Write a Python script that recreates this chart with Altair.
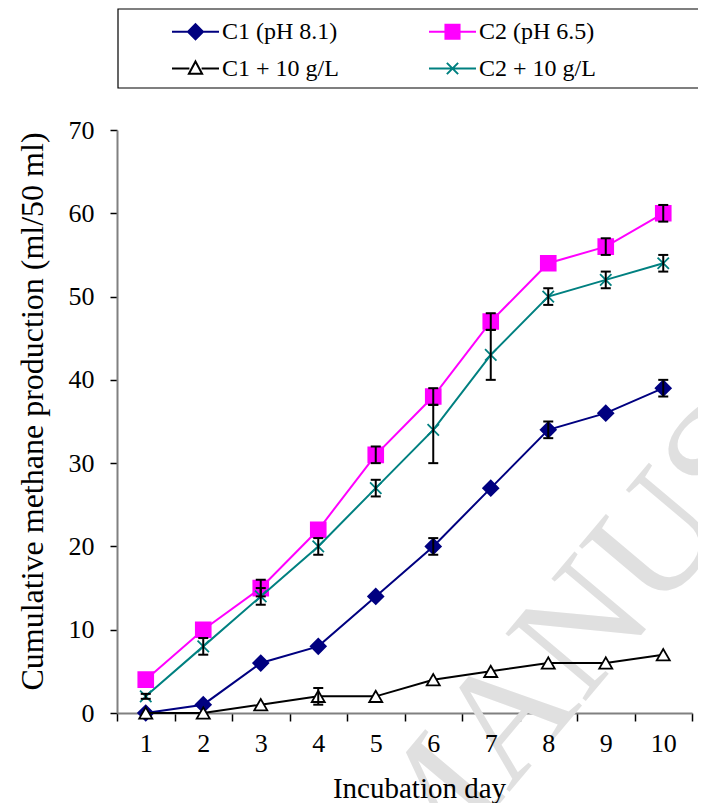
import altair as alt
import pandas as pd

# ---- data ----
days = [1, 2, 3, 4, 5, 6, 7, 8, 9, 10]
series_names = ["C1 (pH 8.1)", "C2 (pH 6.5)", "C1 + 10 g/L", "C2 + 10 g/L"]

c1 = [0, 1, 6, 8, 14, 20, 27, 34, 36, 39]
c2 = [4, 10, 15, 22, 31, 38, 47, 54, 56, 60]
c1g = [0, 0, 1, 2, 2, 4, 5, 6, 6, 7]
c2g = [2, 8, 14, 20, 27, 34, 43, 50, 52, 54]

# error bars (down / up)
c1_lo = [0, 0, 0, 0, 0, 1, 0, 1, 0, 1]
c1_hi = [0, 0, 0, 0, 0, 1, 0, 1, 0, 1]
c2_lo = [0, 0, 1, 0, 1, 1, 1, 0, 1, 1]
c2_hi = [0, 0, 1, 0, 1, 1, 1, 0, 1, 1]
c1g_lo = [0, 0, 0, 1, 0, 0, 0, 0, 0, 0]
c1g_hi = [0, 0, 0, 1, 0, 0, 0, 0, 0, 0]
c2g_lo = [0.3, 1, 1, 1, 1, 4, 3, 1, 1, 1]
c2g_hi = [0.3, 1, 1, 1, 1, 3, 3, 1, 1, 1]

y_ticks = [0, 10, 20, 30, 40, 50, 60, 70]
x_ticks = [0.5, 1, 1.5, 2, 2.5, 3, 3.5, 4, 4.5, 5, 5.5, 6, 6.5, 7, 7.5, 8, 8.5, 9, 9.5, 10, 10.5]

# ---- styles ----
line_colors = ["#000080", "#FF00FF", "#000000", "#008080"]
fill_colors = ["#000080", "#FF00FF", "#FFFFFF", "transparent"]
shapes = ["diamond", "square", "triangle-up", "M-1,-1L1,1M-1,1L1,-1"]
sizes = [230, 220, 170, 130]
legend_shapes = [
    "M-1,0L1,0M0,-0.32L0.32,0L0,0.32L-0.32,0Z",
    "M-1,0L1,0M-0.3,-0.3L0.3,-0.3L0.3,0.3L-0.3,0.3Z",
    "M-1,0L-0.26,0M0.26,0L1,0M0,-0.3L0.28,0.22L-0.28,0.22Z",
    "M-1,0L1,0M-0.24,-0.24L0.24,0.24M-0.24,0.24L0.24,-0.24",
]

vals = [c1, c2, c1g, c2g]
los = [c1_lo, c2_lo, c1g_lo, c2g_lo]
his = [c1_hi, c2_hi, c1g_hi, c2g_hi]

rows = []
for s, v, lo, hi in zip(series_names, vals, los, his):
    for d, a, l, h in zip(days, v, lo, hi):
        rows.append({"series": s, "day": d, "value": a, "lo": a - l, "hi": a + h, "err": l + h})
df = pd.DataFrame(rows)

FONT = "Liberation Serif"
YTITLE = "Cumulative methane production (ml/50 ml)"
XTITLE = "Incubation day"

xscale = alt.Scale(domain=[0.5, 10.5], nice=False, zero=False)
yscale = alt.Scale(domain=[0, 70], nice=False)

# x axis line + boundary ticks (drawn under the marks)
x_axis_main = alt.Axis(
    values=x_ticks,
    orient="bottom",
    labels=False,
    tickOpacity={"condition": {"test": "datum.value % 1 != 0", "value": 1}, "value": 0},
    tickSize=8,
    grid=False,
)
# x labels + title (drawn above the watermark)
x_axis_labels = alt.Axis(
    values=x_ticks,
    orient="bottom",
    domain=False,
    ticks=False,
    zindex=1,
    labelExpr="datum.value % 1 == 0 ? format(datum.value, 'd') : ''",
    labelPadding=17,
    labelFontSize=26,
    labelOverlap=False,
    labelFlush=False,
    grid=False,
    titleFontSize=29,
    titleX=302,
    titleY=84,
    titleBaseline="alphabetic",
    titleAlign="center",
)
y_axis = alt.Axis(
    values=y_ticks,
    tickSize=7,
    labelPadding=16,
    labelFontSize=26,
    grid=False,
    titleFontSize=32,
    titleAngle=270,
    titleX=-75,
    titleY=281,
    titleBaseline="alphabetic",
    titleAlign="center",
)


def X(axis=None, title=None):
    return alt.X("day:Q", scale=xscale, axis=axis, title=title)


def Y(field):
    return alt.Y(f"{field}:Q", scale=yscale, axis=y_axis, title=YTITLE)


base = alt.Chart(df)

layers = []

# watermark
layers.append(
    alt.Chart(alt.Data(values=[{}])).mark_text(
        text="MANUSCRIPT", angle=310, font=FONT, fontSize=160, color="#e0e0e0",
        align="left", baseline="alphabetic",
    ).encode(x=alt.value(300), y=alt.value(772))
)

# legend box
layers.append(
    alt.Chart(alt.Data(values=[{}])).mark_rect(
        fill="white", stroke="black", strokeWidth=1.2
    ).encode(x=alt.value(1), x2=alt.value(640), y=alt.value(-121), y2=alt.value(-42))
)

for i, s in enumerate(series_names):
    sub = base.transform_filter(alt.datum.series == s)
    layers.append(
        sub.mark_line(color=line_colors[i], strokeWidth=2).encode(
            x=X(x_axis_main if i == 0 else None), y=Y("value"), order="day:Q"
        )
    )
    layers.append(
        sub.mark_point(
            shape=shapes[i], size=sizes[i], fill=fill_colors[i], stroke=line_colors[i],
            strokeWidth=1.8, opacity=1, filled=False,
        ).encode(x=X(), y=Y("value"))
    )

# error bars
eb = base.transform_filter(alt.datum.err > 0)
layers.append(eb.mark_rule(color="black", strokeWidth=2).encode(x=X(), y=Y("lo"), y2="hi:Q"))
layers.append(
    eb.mark_rule(color="black", strokeWidth=2, xOffset=-5, x2Offset=5).encode(
        x=X(), x2="day:Q", y=Y("hi")
    )
)
layers.append(
    eb.mark_rule(color="black", strokeWidth=2, xOffset=-5, x2Offset=5).encode(
        x=X(), x2="day:Q", y=Y("lo")
    )
)

# legend (scales only) + x labels/title axis
leg = alt.Legend(
    orient="none", legendX=54, legendY=-123, columns=2, direction="horizontal", title=None,
    labelFont=FONT, labelFontSize=24, labelColor="black", labelOffset=2,
    symbolSize=2209, symbolStrokeWidth=2, symbolOpacity=1,
    rowPadding=0, columnPadding=86, padding=0, labelLimit=400,
)
legend_layer = base.transform_filter("false").mark_point(opacity=1).encode(
    x=X(x_axis_labels, XTITLE),
    y=Y("value"),
    shape=alt.Shape("series:N", scale=alt.Scale(domain=series_names, range=legend_shapes), legend=leg),
    fill=alt.Fill("series:N", scale=alt.Scale(domain=series_names, range=fill_colors), legend=leg),
    stroke=alt.Stroke("series:N", scale=alt.Scale(domain=series_names, range=line_colors), legend=leg),
)
layers.append(legend_layer)

chart = alt.layer(*layers).resolve_axis(x="independent").properties(
    width=575,
    height=583,
    autosize="none",
    padding={"left": 109, "top": 122, "right": 6, "bottom": 90},
).configure_view(stroke=None).configure_axis(
    domainColor="#808080",
    domainWidth=2,
    tickColor="black",
    tickWidth=1.5,
    labelFont=FONT,
    labelColor="black",
    titleFont=FONT,
    titleColor="black",
    titleFontWeight="normal",
).configure_legend(
    labelFont=FONT,
    labelFontSize=24,
    labelColor="black",
)

chart.save("out.html", embed_options={"renderer": "svg", "actions": False})
